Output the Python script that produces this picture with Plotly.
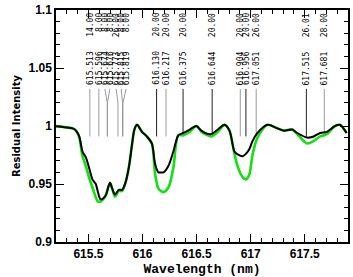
import plotly.graph_objects as go

# ---- spectrum data (wavelength in nm, residual intensity) ----
wavelength = [615.186, 615.277, 615.353, 615.385, 615.415, 615.445, 615.476, 615.506,
              615.537, 615.568, 615.585, 615.610, 615.628, 615.659, 615.699, 615.720,
              615.745, 615.781, 615.811, 615.842, 615.873, 615.903, 615.925, 615.949,
              615.995, 616.040, 616.086, 616.117, 616.147, 616.170, 616.193, 616.239,
              616.285, 616.331, 616.376, 616.438, 616.498, 616.544, 616.580, 616.636,
              616.697, 616.758, 616.804, 616.850, 616.880, 616.926, 616.956, 616.987,
              617.017, 617.063, 617.155, 617.246, 617.308, 617.384, 617.430, 617.521,
              617.582, 617.643, 617.704, 617.780, 617.826, 617.887]
observed = [1.000, 0.999, 0.998, 0.996, 0.991, 0.978, 0.973, 0.964,
            0.954, 0.950, 0.944, 0.937, 0.937, 0.940, 0.951, 0.946,
            0.941, 0.945, 0.945, 0.951, 0.964, 0.984, 0.997, 1.001,
            0.995, 0.991, 0.985, 0.967, 0.960, 0.960, 0.960, 0.9655,
            0.978, 0.992, 0.994, 0.997, 1.000, 0.996, 0.994, 0.993,
            0.997, 1.001, 0.996, 0.978, 0.9755, 0.974, 0.976, 0.980,
            0.987, 0.994, 1.001, 0.998, 0.996, 0.997, 0.994, 0.990,
            0.991, 0.994, 0.995, 1.000, 1.001, 0.994]
synthetic = [1.000, 0.999, 0.998, 0.996, 0.990, 0.974, 0.9655, 0.9556,
             0.947, 0.9386, 0.935, 0.935, 0.936, 0.940, 0.951, 0.946,
             0.939, 0.944, 0.944, 0.951, 0.964, 0.984, 0.997, 1.001,
             0.995, 0.991, 0.985, 0.958, 0.946, 0.944, 0.943, 0.947,
             0.964, 0.992, 0.992, 0.995, 1.000, 0.995, 0.993, 0.991,
             0.995, 1.001, 0.996, 0.976, 0.965, 0.956, 0.954, 0.958,
             0.975, 0.990, 1.001, 0.998, 0.996, 0.997, 0.993, 0.985,
             0.987, 0.991, 0.993, 1.000, 1.001, 0.994]

# ---- line identifications ----
line_wl = [615.513, 615.596, 615.674, 615.676, 615.773, 615.815, 615.819,
           616.130, 616.217, 616.375, 616.644, 616.904, 616.956, 617.051,
           617.515, 617.681]
line_code = [14.00, 8.00, 8.00, 8.00, 26.00, 8.00, 8.00,
             20.00, 20.00, 20.00, 20.00, 20.00, 20.00, 26.00,
             26.01, 28.00]
line_dark = [False, False, False, False, False, False, False,
             True, False, True, True, False, True, False,
             True, False]

x_ticks = [615.5, 616, 616.5, 617, 617.5]
y_ticks = [0.9, 0.95, 1, 1.05, 1.1]


def spread(xs, dmin):
    pos = list(xs)
    for _ in range(500):
        moved = False
        for i in range(len(pos) - 1):
            gap = pos[i + 1] - pos[i]
            if gap < dmin - 1e-9:
                sh = (dmin - gap) / 2
                pos[i] -= sh
                pos[i + 1] += sh
                moved = True
        if not moved:
            break
    return pos


label_x = spread(line_wl, 0.046)

fig = go.Figure()

# identification markers
for wl, lx, dark in zip(line_wl, label_x, line_dark):
    fig.add_trace(go.Scatter(
        x=[lx, wl, wl], y=[1.032, 1.020, 0.991], mode="lines",
        line=dict(color="#222222" if dark else "#9a9a9a", width=1),
        hoverinfo="skip", showlegend=False))

fig.add_trace(go.Scatter(x=wavelength, y=synthetic, mode="lines",
                         line=dict(color="#11e011", width=2.6, shape="spline", smoothing=0.8),
                         showlegend=False))
fig.add_trace(go.Scatter(x=wavelength, y=observed, mode="lines",
                         line=dict(color="black", width=2, shape="spline", smoothing=0.8),
                         showlegend=False))

for wl, lx, code in zip(line_wl, label_x, line_code):
    fig.add_annotation(
        x=lx, y=1.0335, xref="x", yref="y", showarrow=False,
        text=f"{wl:.3f}   {code:5.2f}".replace(" ", "&nbsp;"),
        textangle=-90, xanchor="center", yanchor="bottom",
        font=dict(family="DejaVu Sans Mono", size=8, color="black"))

axis_common = dict(
    showline=True, linecolor="black", linewidth=1.5, mirror="allticks",
    ticks="inside", ticklen=8, tickcolor="black", tickwidth=1,
    showgrid=False, zeroline=False,
    tickfont=dict(family="Liberation Sans", size=12, color="black", weight="bold"),
)

fig.update_xaxes(range=[615.2, 617.9], tickmode="array", tickvals=x_ticks,
                 minor=dict(dtick=0.1, tick0=615.2, ticks="inside", ticklen=4,
                            tickcolor="black", showgrid=False),
                 title=dict(text="Wavelength (nm)", standoff=4,
                            font=dict(family="Liberation Mono", size=13, color="black", weight="bold")),
                 **axis_common)
fig.update_yaxes(range=[0.9, 1.1], tickmode="array", tickvals=y_ticks,
                 minor=dict(dtick=0.01, tick0=0.9, ticks="inside", ticklen=4,
                            tickcolor="black", showgrid=False),
                 title=dict(text="Residual Intensity", standoff=6,
                            font=dict(family="DejaVu Sans", size=10, color="black", weight="bold")),
                 **axis_common)

fig.update_layout(width=353, height=277, margin=dict(l=56, r=3, t=7, b=35),
                  plot_bgcolor="white", paper_bgcolor="white")

fig.write_html("out.html", config={"displayModeBar": False},
               post_script="document.body.style.margin='0';")
